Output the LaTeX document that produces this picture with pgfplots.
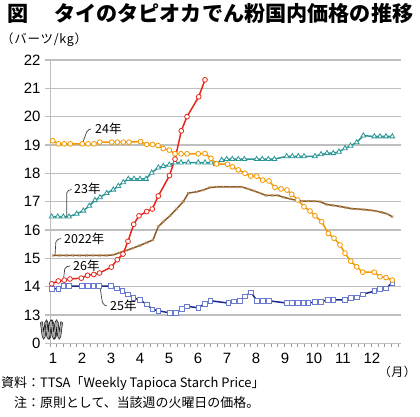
\documentclass[border=0pt]{standalone}
\usepackage{fontspec}
\setmainfont{Liberation Sans}
\newfontfamily\jp{Noto Sans CJK JP}
\usepackage{pgfplots}
\pgfplotsset{compat=1.18}
\definecolor{c24}{HTML}{F39800}
\definecolor{c23}{HTML}{2A9696}
\definecolor{c22}{HTML}{8C5A28}
\definecolor{c22m}{HTML}{B8905E}
\definecolor{c26}{HTML}{E8261A}
\definecolor{c25}{HTML}{1D2A8C}
\definecolor{c25m}{HTML}{6A7BD0}
\definecolor{gridc}{HTML}{BFBFBF}
\begin{document}
\begin{tikzpicture}[x=1bp,y=1bp]
\path (0,0) rectangle (420,417);
\node[anchor=west, inner sep=0, font=\jp\bfseries\fontsize{21.2}{22}\selectfont] at (7,403) {図};
\node[anchor=west, inner sep=0, font=\jp\bfseries\fontsize{21.2}{22}\selectfont] at (54,403) {タイのタピオカでん粉国内価格の推移};
\node[anchor=west, inner sep=0, font=\jp\fontsize{12.5}{13}\selectfont\addfontfeature{LetterSpace=6}] at (1,377) {（バーツ/kg）};
\node[anchor=east, inner sep=0, font=\jp\fontsize{12}{12}\selectfont\addfontfeature{LetterSpace=4}] at (416,45) {（月）};
\node[anchor=west, inner sep=0, font=\jp\fontsize{13}{13}\selectfont] at (1,33) {資料：TTSA「Weekly Tapioca Starch Price」};
\node[anchor=west, inner sep=0, font=\jp\fontsize{13}{13}\selectfont] at (14,14.5) {注：原則として、当該週の火曜日の価格。};
\begin{axis}[at={(50bp,73.7bp)}, anchor=south west, scale only axis,
  width=351bp, height=283.3bp,
  xmin=0.8966, xmax=13.0, ymin=12, ymax=22,
  axis x line*=bottom, axis y line*=left,
  axis line style={gridc, line width=1bp},
  ytick={12,...,22}, yticklabels={0,13,14,15,16,17,18,19,20,21,22},
  ymajorgrids, grid style={gridc, line width=1.2bp},
  xtick={1,...,12},
  minor xtick={0.8966,1.1274,...,13.0},
  tick align=outside,
  major tick length=5bp, minor tick length=4bp,
  major x tick style={draw=none},
  minor x tick style={gridc!80!black, line width=0.6bp},
  y tick style={gridc, line width=1.2bp},
  ticklabel style={font=\fontsize{15}{15}\selectfont},
  xticklabel style={yshift=-1.5bp},
  yticklabel style={xshift=-1bp},
  /pgf/number format/assume math mode=true,
  clip=false,
]
\addplot[c22, line width=1.5bp, mark=x, mark size=1.6bp, mark options={c22m, line width=0.6bp}] coordinates {
(1.0,15.1)(1.231,15.1)(1.462,15.1)(1.690,15.1)(1.921,15.1)(2.152,15.1)(2.379,15.1)(2.610,15.1)(2.841,15.1)
(3.069,15.12)(3.300,15.2)(3.531,15.28)(3.759,15.36)(3.990,15.45)(4.221,15.55)(4.448,15.65)(4.631,16.12)
(4.803,16.29)(5.034,16.5)(5.266,16.75)(5.493,17.0)(5.666,17.3)(5.955,17.35)(6.183,17.41)(6.414,17.5)
(6.645,17.52)(6.872,17.52)(7.103,17.52)(7.334,17.52)(7.507,17.52)(7.724,17.45)(7.931,17.38)(8.138,17.3)
(8.345,17.22)(8.552,17.22)(8.759,17.22)(8.966,17.15)(9.172,17.1)(9.379,17.05)(9.586,17.02)(9.793,17.02)
(10.0,17.02)(10.207,17.0)(10.438,16.9)(10.655,16.87)(10.897,16.83)(11.103,16.79)(11.310,16.75)(11.517,16.74)
(11.724,16.72)(11.931,16.7)(12.138,16.67)(12.345,16.62)(12.517,16.57)(12.700,16.47)};
\addplot[c23, line width=1.5bp, mark=triangle*, mark size=2.8bp, mark options={fill=white, draw=c23, line width=0.8bp}] coordinates {
(0.955,16.47)(1.162,16.47)(1.355,16.47)(1.552,16.47)(1.817,16.57)(2.045,16.68)(2.252,16.85)(2.448,17.05)
(2.621,17.15)(2.852,17.3)(3.079,17.42)(3.252,17.55)(3.424,17.68)(3.597,17.8)(3.793,17.8)(4.0,17.8)(4.207,17.8)
(4.403,18.02)(4.631,18.2)(4.803,18.25)(5.010,18.3)(5.207,18.38)(5.414,18.38)(5.666,18.38)(6.010,18.38)
(6.241,18.38)(6.448,18.38)(6.621,18.33)(6.817,18.47)(6.990,18.5)(7.183,18.5)(7.390,18.5)(7.597,18.5)
(8.024,18.5)(8.217,18.5)(8.424,18.5)(8.631,18.5)(9.059,18.6)(9.252,18.6)(9.459,18.6)(9.655,18.6)
(10.034,18.6)(10.241,18.67)(10.448,18.71)(10.666,18.71)(10.862,18.76)(11.069,18.88)(11.259,18.97)
(11.472,19.09)(11.700,19.33)(12.079,19.3)(12.276,19.3)(12.483,19.3)(12.700,19.3)};
\addplot[c25, line width=1.5bp, mark=square*, mark size=2.3bp, mark options={fill=white, draw=c25m, line width=0.8bp}] coordinates {
(0.955,13.92)(1.183,13.93)(1.355,14.02)(1.552,14.02)(1.990,14.02)(2.197,14.02)(2.390,14.02)(2.586,14.02)
(3.0,14.02)(3.197,13.94)(3.390,13.85)(3.576,13.73)(3.769,13.6)(4.0,13.53)(4.231,13.38)(4.424,13.2)
(4.631,13.15)(5.034,13.07)(5.231,13.07)(5.438,13.22)(5.610,13.3)(6.010,13.26)(6.241,13.4)(6.431,13.5)
(7.045,13.42)(7.241,13.48)(7.448,13.5)(7.621,13.66)(7.828,13.8)(8.034,13.5)(8.241,13.5)(8.448,13.5)
(9.059,13.42)(9.231,13.42)(9.438,13.42)(9.631,13.42)(9.803,13.42)(10.034,13.46)(10.241,13.47)
(10.472,13.53)(10.666,13.53)(11.069,13.53)(11.266,13.61)(11.472,13.62)(11.679,13.73)(12.079,13.84)
(12.276,13.92)(12.483,13.94)(12.700,14.14)};
\addplot[c24, line width=1.5bp, mark=*, mark size=2.4bp, mark options={fill=white, draw=c24, line width=0.8bp}] coordinates {
(0.990,19.15)(1.183,19.04)(1.390,19.04)(1.597,19.04)(2.010,19.04)(2.207,19.04)(2.414,19.04)(2.610,19.1)
(3.024,19.1)(3.217,19.1)(3.424,19.1)(3.621,19.1)(4.017,19.12)(4.231,19.02)(4.431,19.02)(4.621,18.98)
(4.803,18.87)(5.010,18.82)(5.207,18.69)(5.414,18.69)(5.621,18.69)(6.010,18.69)(6.241,18.7)(6.448,18.53)
(6.638,18.33)(7.017,18.32)(7.183,18.23)(7.390,18.12)(7.621,18.0)(7.817,17.9)(8.024,17.9)(8.231,17.76)
(8.448,17.73)(8.655,17.5)(8.862,17.45)(9.069,17.41)(9.231,17.26)(9.438,17.06)(9.655,16.82)(9.862,16.67)
(10.034,16.5)(10.266,16.29)(10.493,15.88)(10.690,15.71)(10.897,15.47)(11.069,15.18)(11.266,14.9)
(11.472,14.7)(11.679,14.51)(12.079,14.51)(12.276,14.35)(12.483,14.32)(12.700,14.23)};
\addplot[c26, line width=1.5bp, mark=*, mark size=2.4bp, mark options={fill=white, draw=c26, line width=0.8bp}] coordinates {
(0.955,14.1)(1.183,14.2)(1.390,14.23)(1.586,14.27)(1.976,14.3)(2.190,14.4)(2.407,14.43)(2.603,14.48)
(3.010,14.69)(3.217,14.95)(3.414,15.15)(3.586,15.6)(3.783,16.2)(3.966,16.5)(4.231,16.65)(4.424,16.74)
(4.631,17.2)(5.017,17.92)(5.207,18.5)(5.424,19.5)(5.621,20.0)(6.024,20.7)(6.241,21.3)};
% series labels
\begin{scope}[line width=0.7bp, black!75, rounded corners=2bp]
\draw (axis cs:2.010,19.035) -- (axis cs:2.183,19.529) -- (axis cs:2.310,19.564);
\draw (axis cs:1.472,16.469) -- (axis cs:1.472,17.376) -- (axis cs:1.638,17.429);
\draw (axis cs:1.069,15.10) -- (axis cs:1.103,15.646) -- (axis cs:1.276,15.699);
\draw (axis cs:1.355,14.217) -- (axis cs:1.414,14.693) -- (axis cs:1.586,14.729);
\draw (axis cs:2.621,13.987) -- (axis cs:2.714,13.370) -- (axis cs:2.862,13.317);
\end{scope}
\begin{scope}[every node/.style={anchor=west, inner sep=0, font=\jp\fontsize{12.5}{12.5}\selectfont}]
\node at (axis cs:2.448,19.564) {24年};
\node at (axis cs:1.724,17.447) {23年};
\node at (axis cs:1.379,15.699) {2022年};
\node at (axis cs:1.690,14.729) {26年};
\node at (axis cs:2.966,13.317) {25年};
\end{scope}
\end{axis}
% axis break symbol
\foreach \dx in {0,4.5}{
\draw[black, line width=0.55bp, double=gray!70, double distance=1.6bp]
  (41+\dx,95) cos (42.375+\dx,87.5) sin (43.75+\dx,80) cos (45.125+\dx,87.5) sin (46.5+\dx,95)
  cos (47.875+\dx,87.5) sin (49.25+\dx,80) cos (50.625+\dx,87.5) sin (52+\dx,95)
  cos (53.375+\dx,87.5) sin (54.75+\dx,80) cos (56.125+\dx,87.5) sin (57.5+\dx,95);
}
\end{tikzpicture}
\end{document}
